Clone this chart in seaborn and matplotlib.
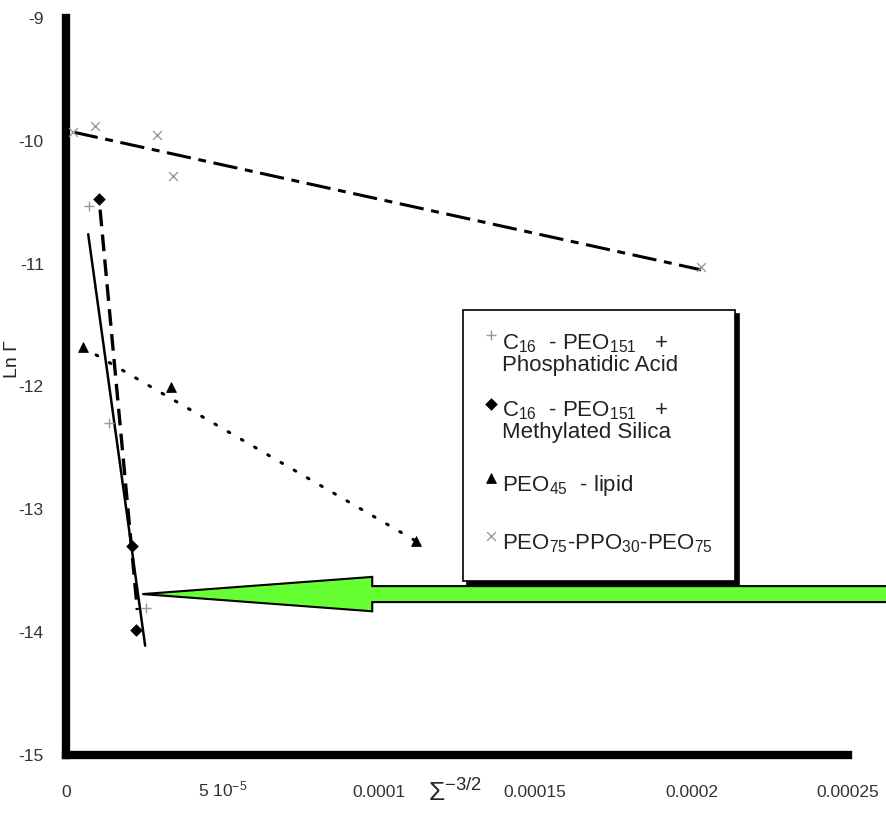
import numpy as np
import pandas as pd
import matplotlib
matplotlib.use("Agg")
import matplotlib.pyplot as plt
from matplotlib.patches import FancyArrow
from matplotlib.legend_handler import HandlerPathCollection
import seaborn as sns

# -------------------------------------
# DATA
# -------------------------------------
# C16-PEO151 + phosphatidic acid (grey +)
pa_x = [7.4e-6, 1.38e-5, 2.56e-5]
pa_y = [-10.53, -12.30, -13.80]
pa_fit_x = [7.1e-6, 2.53e-5]
pa_fit_y = [-10.76, -14.11]

# C16-PEO151 + methylated silica (black diamond)
ms_x = [1.06e-5, 2.12e-5, 2.24e-5]
ms_y = [-10.47, -13.30, -13.98]
ms_fit_x = [1.09e-5, 2.28e-5]
ms_fit_y = [-10.56, -13.82]

# PEO45 - lipid (black triangle)
lip_x = [5.4e-6, 3.37e-5, 1.12e-4]
lip_y = [-11.68, -12.00, -13.26]
lip_fit_x = [5.4e-6, 1.12e-4]
lip_fit_y = [-11.68, -13.26]

# PEO75-PPO30-PEO75 (grey x)
plur_x = [2.2e-6, 9.3e-6, 2.92e-5, 3.43e-5, 2.03e-4]
plur_y = [-9.93, -9.88, -9.95, -10.29, -11.03]
plur_fit_x = [2.5e-6, 2.03e-4]
plur_fit_y = [-9.93, -11.05]

labels = [
    "C$_{16}$  - PEO$_{151}$   +\nPhosphatidic Acid",
    "C$_{16}$  - PEO$_{151}$   +\nMethylated Silica",
    "PEO$_{45}$  - lipid",
    "PEO$_{75}$-PPO$_{30}$-PEO$_{75}$",
]

x_ticks = [0, 5e-5, 1e-4, 1.5e-4, 2e-4, 2.5e-4]
x_ticklabels = ["0", "5 10$^{-5}$", "0.0001", "0.00015", "0.0002", "0.00025"]
y_ticks = [-15, -14, -13, -12, -11, -10, -9]

# arrow tip (points at the steep fits)
arrow_tip = (2.44e-5, -13.69)

# -------------------------------------
# STYLE
# -------------------------------------
sns.set_style("white")
plt.rcParams["font.family"] = ["Liberation Sans", "DejaVu Sans"]
plt.rcParams["mathtext.fontset"] = "custom"
plt.rcParams["mathtext.rm"] = "Liberation Sans"
plt.rcParams["mathtext.it"] = "Liberation Sans:italic"
plt.rcParams["mathtext.bf"] = "Liberation Sans:bold"
plt.rcParams["axes.unicode_minus"] = False

fig = plt.figure(figsize=(8.86, 8.26), dpi=100)
ax = fig.add_axes([66 / 886, (826 - 755) / 826, (848 - 66) / 886, (755 - 18) / 826])

# -------------------------------------
# FIT LINES
# -------------------------------------
sns.lineplot(x=plur_fit_x, y=plur_fit_y, ax=ax, color="black", lw=2.2,
             linestyle=(0, (8, 2.5, 2.6, 2.5)))
sns.lineplot(x=pa_fit_x, y=pa_fit_y, ax=ax, color="black", lw=1.8)
sns.lineplot(x=ms_fit_x, y=ms_fit_y, ax=ax, color="black", lw=2.4,
             linestyle=(0, (5, 2.5)))
sns.lineplot(x=lip_fit_x, y=lip_fit_y, ax=ax, color="black", lw=2.2,
             linestyle=(0, (0.6, 4.4)), dash_capstyle="round")

# -------------------------------------
# POINTS
# -------------------------------------
sns.scatterplot(x=pa_x, y=pa_y, ax=ax, marker="+", s=45, color="#9a9a9a",
                linewidth=1, label=labels[0], zorder=5)
sns.scatterplot(x=ms_x, y=ms_y, ax=ax, marker="D", s=35, color="black",
                edgecolor="black", label=labels[1], zorder=5)
sns.scatterplot(x=lip_x, y=lip_y, ax=ax, marker="^", s=50, color="black",
                edgecolor="black", label=labels[2], zorder=5)
sns.scatterplot(x=plur_x, y=plur_y, ax=ax, marker="x", s=40, color="#9a9a9a",
                linewidth=1, label=labels[3], zorder=5)

# -------------------------------------
# AXES
# -------------------------------------
ax.set_xlim(0, 2.5e-4)
ax.set_ylim(-15, -9)
ax.set_xticks(x_ticks)
ax.set_xticklabels(x_ticklabels)
ax.set_yticks(y_ticks)
ax.set_yticklabels([str(v) for v in y_ticks])
ax.tick_params(axis="both", direction="in", length=11, width=1, color="#b8b8b8",
               labelsize=12.5, labelcolor="#333333")
ax.tick_params(axis="x", pad=30)
ax.tick_params(axis="y", pad=16)
for t in ax.get_xticklabels():
    t.set_verticalalignment("baseline")

for side in ["top", "right"]:
    ax.spines[side].set_visible(False)
for side in ["left", "bottom"]:
    ax.spines[side].set_linewidth(6)
    ax.spines[side].set_color("black")
    ax.spines[side].set_capstyle("projecting")

ax.set_xlabel(r"$\Sigma^{-3/2}$", fontsize=19)
ax.xaxis.set_label_coords(0.497, -0.033)
ax.set_ylabel("Ln Γ", fontsize=14)
ax.yaxis.set_label_coords(-0.058, 0.537)

# -------------------------------------
# LEGEND
# -------------------------------------
handles, _ = ax.get_legend_handles_labels()
hmap = {handles[0]: HandlerPathCollection(yoffsets=[0.78]),
        handles[1]: HandlerPathCollection(yoffsets=[0.74])}
leg = ax.legend(handles, labels, loc="upper left", bbox_to_anchor=(0.508, 0.604),
                borderaxespad=0, fontsize=16, frameon=True, fancybox=False,
                handlelength=0.5, handletextpad=0.25, borderpad=1.0,
                labelspacing=1.07, handleheight=2.0, handler_map=hmap,
                shadow={"color": "black", "alpha": 1, "ox": 3, "oy": -3})
leg.get_frame().set_edgecolor("black")
leg.get_frame().set_linewidth(1.2)
for t in leg.get_texts():
    t.set_color("#222222")
    t.set_linespacing(1.0)

# -------------------------------------
# GREEN ARROW
# -------------------------------------
tail_x = 2.75e-4
arrow = FancyArrow(tail_x, arrow_tip[1], arrow_tip[0] - tail_x, 0,
                   width=0.13, head_width=0.28, head_length=7.35e-5,
                   length_includes_head=True, facecolor="#66ff33",
                   edgecolor="black", lw=1.5, clip_on=False, zorder=10)
ax.add_patch(arrow)

fig.savefig("out.png", dpi=100)
